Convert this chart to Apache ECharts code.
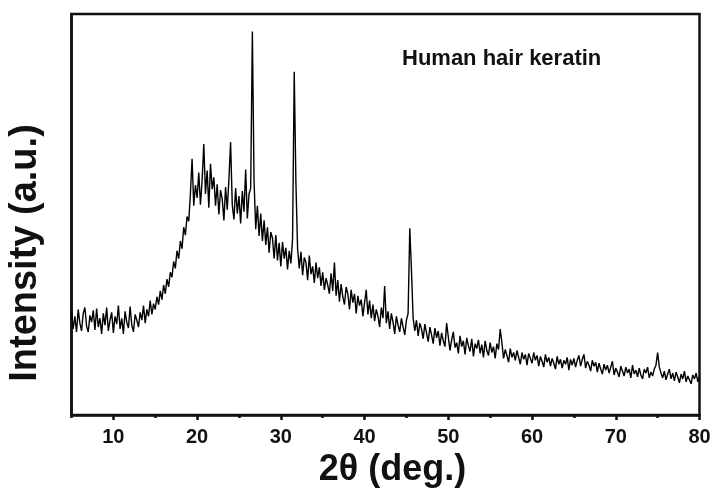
<!DOCTYPE html>
<html>
<head>
<meta charset="utf-8">
<script src="https://cdn.jsdelivr.net/npm/echarts@6/dist/echarts.min.js"></script>
<style>
html,body{margin:0;padding:0;background:#fff;}
#chart{width:714px;height:493px;}
</style>
</head>
<body>
<div id="chart"></div>
<script>
// 2θ sampling: start 5°, step 0.2°
var thetaStart = 5.0;
var thetaStep = 0.2;
// Intensity (a.u.), in 0.2° steps
var intensity5to20 = [106,88,101,85,108,94,86,104,110,91,
  85,102,95,107,87,109,90,99,83,104,
  92,110,86,97,105,84,101,93,112,88,
  99,83,106,95,89,111,92,85,103,97,
  90,105,97,112,94,108,101,117,103,114,
  108,121,113,127,118,133,124,139,131,146,
  141,157,150,168,160,178,170,192,184,203,
  198,226,262,214,235];
var intensity20to35 = [222,248,215,240,277,226,250,212,257,231,
  243,214,236,205,230,221,199,233,210,241,
  279,215,200,232,206,224,196,229,208,251,
  201,226,232,392,240,190,214,183,206,178,
  199,174,192,166,187,181,160,184,158,176,
  152,177,160,171,149,168,155,180,351,238,
  170,150,167,143,161,156,138,163,144,152,
  135,156,140,151,132];
var intensity35to50 = [146,128,140,133,124,145,127,156,122,138,
  116,134,121,113,131,124,108,128,115,124,
  104,122,112,118,101,115,128,103,117,99,
  113,96,108,101,90,110,99,132,94,106,
  88,104,95,83,101,92,85,99,90,82,
  97,104,191,148,99,86,97,81,94,88,
  78,93,84,75,90,82,73,89,79,86,
  71,84,76,70,94];
var intensity50to65 = [80,66,77,85,69,74,63,81,70,76,
  62,79,71,65,78,60,73,68,77,63,
  72,59,76,66,61,74,64,70,58,73,
  67,88,74,58,67,61,54,68,59,64,
  56,66,59,52,64,57,62,51,63,58,
  53,64,56,61,50,60,55,49,62,54,
  59,50,58,53,47,60,52,57,48,56,
  52,59,46,57,51];
var intensity65to80 = [58,49,56,61,50,57,62,48,55,51,
  45,56,50,54,44,53,47,42,52,46,
  51,43,49,55,41,48,44,39,50,45,
  40,49,43,47,38,51,42,46,39,48,
  41,37,47,43,49,38,44,40,47,51,
  64,49,43,38,45,36,42,47,37,43,
  35,44,39,33,42,37,45,34,40,36,
  32,41,37,43,34,39];
var majorTicks = [10,20,30,40,50,60,70,80];
var minorTicks = [5,15,25,35,45,55,65,75];

var allI = [].concat(intensity5to20, intensity20to35, intensity35to50, intensity50to65, intensity65to80);
var seriesData = allI.map(function(v, i){
  return [Math.round((thetaStart + i*thetaStep)*10)/10, v];
});

var chart = echarts.init(document.getElementById('chart'), null, {renderer:'canvas'});
var axisFont = 'Liberation Sans, Arial, sans-serif';
chart.setOption({
  animation:false,
  backgroundColor:'#ffffff',
  title:{
    text:'Human hair keratin',
    left:397, top:43,
    textStyle:{fontFamily:axisFont, fontWeight:'bold', fontSize:22, color:'#111'}
  },
  grid:{left:71.5, right:14.5, top:14, bottom:69.5, show:true, borderColor:'#111', borderWidth:2.5, backgroundColor:'transparent'},
  xAxis:[{
    type:'value', min:5, max:80, position:'bottom',
    name:'2θ (deg.)', nameLocation:'middle', nameGap:33,
    nameTextStyle:{fontFamily:axisFont, fontWeight:'bold', fontSize:36, color:'#111', padding:[0,0,0,14]},
    axisLine:{show:true, lineStyle:{color:'#111', width:2.5}},
    axisTick:{show:true, inside:false, length:5, customValues:majorTicks, lineStyle:{color:'#111', width:2.5}},
    axisLabel:{show:true, margin:12, customValues:majorTicks, fontFamily:axisFont, fontWeight:'bold', fontSize:20, color:'#111'},
    splitLine:{show:false}
  },{
    type:'value', min:5, max:80, position:'bottom', offset:0,
    axisLine:{show:false},
    axisTick:{show:true, inside:false, length:3, customValues:minorTicks, lineStyle:{color:'#111', width:2.5}},
    axisLabel:{show:false},
    splitLine:{show:false}
  }],
  yAxis:{
    type:'value', min:0, max:410,
    axisLine:{show:true, lineStyle:{color:'#111', width:2.5}},
    axisTick:{show:false}, axisLabel:{show:false}, splitLine:{show:false}
  },
  graphic:[{
    type:'text', x:26, y:253, rotation:Math.PI/2,
    style:{text:'Intensity (a.u.)', fontFamily:axisFont, fontWeight:'bold', fontSize:38, fill:'#111', align:'center', verticalAlign:'middle'}
  }],
  series:[{
    type:'line', xAxisIndex:0, data:seriesData, showSymbol:false, symbol:'none',
    lineStyle:{color:'#000', width:1.4}, smooth:false
  }]
});
</script>
</body>
</html>
